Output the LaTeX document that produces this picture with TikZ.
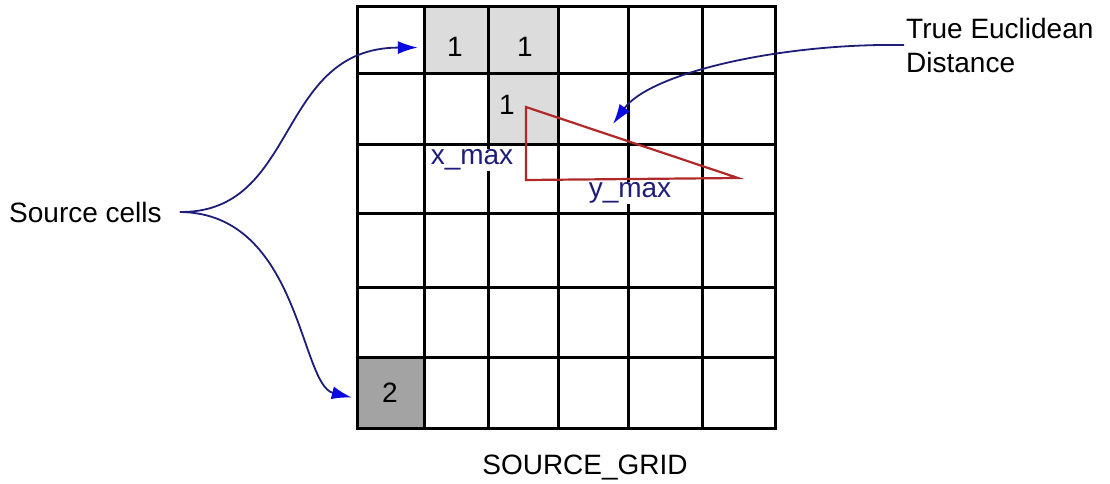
\documentclass[tikz,border=0pt]{standalone}
\usepackage{fontspec}
\setmainfont{Liberation Sans}
\usetikzlibrary{arrows.meta}
\definecolor{GridInk}{HTML}{000000}
\definecolor{CellLight}{HTML}{DCDCDC}
\definecolor{CellDark}{HTML}{A3A3A3}
\definecolor{PointerNavy}{HTML}{1E1E78}
\definecolor{PointerBlue}{HTML}{0A0AE0}
\definecolor{LegRed}{HTML}{B02828}

\begin{document}
\begin{tikzpicture}[x=1pt,y=1pt,font=\fontsize{28}{34}\selectfont,>=Latex]
\tikzset{
  cell/.style={inner sep=0pt,minimum height=70pt,fill=CellLight},
  digit/.style={inner sep=0pt,text=GridInk},
  gridline/.style={GridInk,line width=3pt,line cap=rect},
  leg/.style={LegRed,line width=2.2pt,line join=miter},
  leglab/.style={text=PointerNavy,fill=white,inner sep=1pt},
  pointer/.style={PointerNavy,line width=1.8pt,
                  -{Latex[length=20pt,width=13pt,color=PointerBlue]}},
  caption/.style={text=GridInk,align=left,inner sep=2pt}
}
\useasboundingbox (0,0) rectangle (1110,483);

% ---------- source cells -------------------------------------------------
\node[cell,minimum width=64pt,minimum height=67pt] (cA) at (456,442.5) {};
\node[cell,minimum width=70pt,minimum height=67pt] (cB) at (523,442.5) {};
\node[cell,minimum width=70pt] (cC) at (523,374) {};
\node[cell,minimum width=67pt,minimum height=71pt,fill=CellDark] (cD) at (390.5,90.5) {};

% ---------- the grid -----------------------------------------------------
\foreach \gx in {357,424,488,558,628,702,775}
  \draw[gridline] (\gx,55) -- (\gx,476);
\foreach \gy in {476,409,339,270,196,126,55}
  \draw[gridline] (357,\gy) -- (775,\gy);

\node[digit] (nA) at (455,436) {1};
\node[digit] (nB) at (525,436) {1};
\node[digit] (nC) at (507,378) {1};
\node[digit] (nD) at (390,90) {2};

% ---------- the triangle -------------------------------------------------
\draw[leg] (526,376) -- (526,303) -- (738,305) -- cycle;
\node[leglab] (xmax) at (472,323) {x\_max};
\node[leglab] (ymax) at (630,290) {y\_max};
\coordinate (hyp) at (613,359);

% ---------- captions and pointers ----------------------------------------
\node[caption,anchor=west] (src) at (7,271) {Source cells};
\node[caption,anchor=west] (euc) at (904,438) {True Euclidean\\Distance};
\node[caption] (title) at (585,15) {SOURCE\_GRID};

\draw[pointer] ([xshift=16pt]src.east) .. controls (300,270) and (275,435)
  .. ([shift={(-6pt,-7pt)}]cA.west);
\draw[pointer] ([xshift=16pt]src.east) .. controls (300,270) and (300,98)
  .. ([shift={(-5pt,-5pt)}]cD.west);
\draw[pointer] (euc.west) .. controls (780,440) and (650,410) .. (hyp);
\end{tikzpicture}
\end{document}
